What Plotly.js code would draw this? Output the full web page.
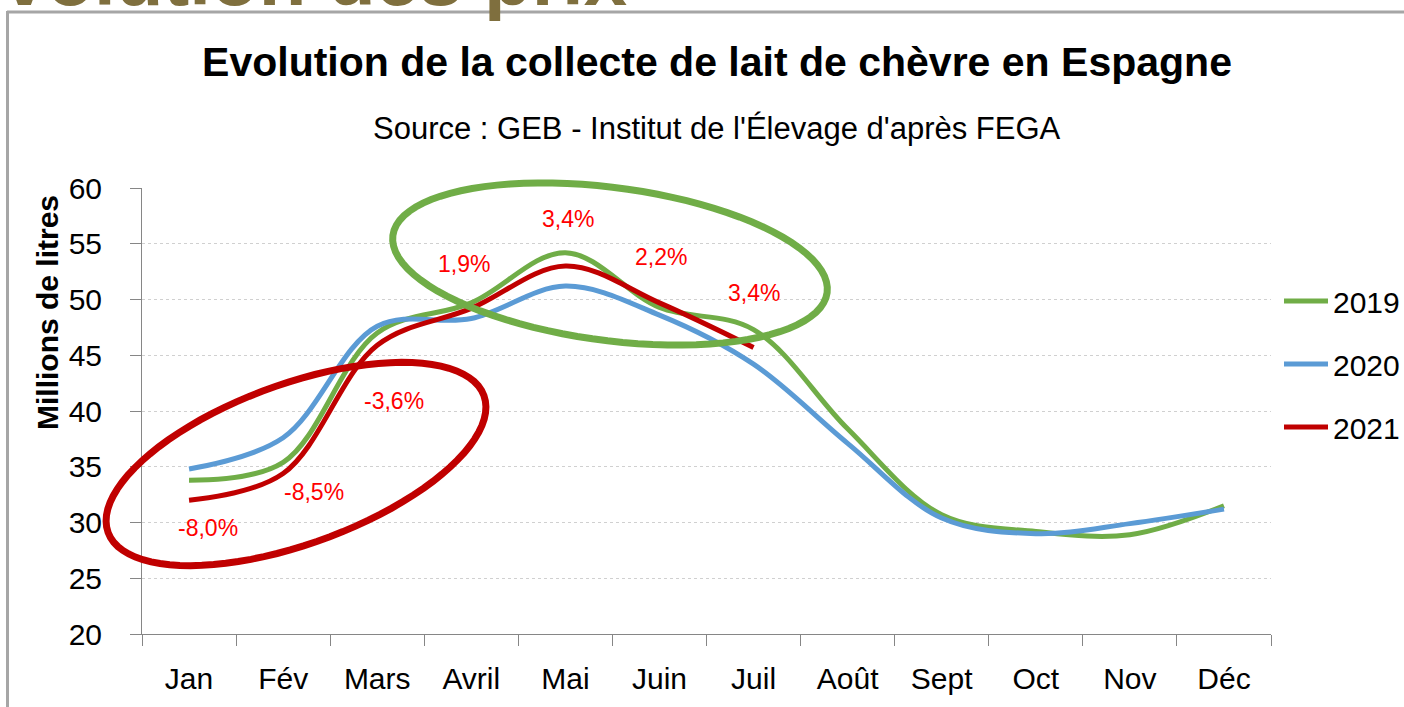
<!DOCTYPE html>
<html>
<head>
<meta charset="utf-8">
<script src="https://cdn.plot.ly/plotly-3.0.1.min.js"></script>
<style>
html,body{margin:0;padding:0;background:#fff;}
#chart{width:1404px;height:707px;}
</style>
</head>
<body>
<div id="chart"></div>
<script>
// ---- data ----
const months = ['Jan','Fév','Mars','Avril','Mai','Juin','Juil','Août','Sept','Oct','Nov','Déc'];
const years = ['2019','2020','2021'];
const y2019 = [33.8, 35.4, 47.0, 49.7, 54.2, 49.3, 47.3, 38.4, 30.7, 29.2, 28.9, 31.5];
const y2020 = [34.8, 37.6, 47.6, 48.3, 51.2, 48.6, 44.2, 37.1, 30.4, 29.0, 29.9, 31.2];
const y2021 = [32.0, 34.4, 45.9, 49.2, 53.0, 49.7, 45.7];
const pctLabels = ['-8,0%', '-8,5%', '-3,6%', '1,9%', '3,4%', '2,2%', '3,4%'];
const yTicks = [20, 25, 30, 35, 40, 45, 50, 55, 60];

// ---- styles / layout ----
const FONT = "'Liberation Sans Narrow', 'Arial Narrow', 'Liberation Sans', Arial, sans-serif";
const colors = ['#70ad47', '#5b9bd5', '#c00000'];
const series = [y2019, y2020, y2021];

const W = 1404, H = 707;
const M = {l: 142, r: 133, t: 188, b: 73, autoexpand: false};
const plotW = W - M.l - M.r, plotH = H - M.t - M.b;
const px2paperX = px => (px - M.l) / plotW;
const px2paperY = py => (H - M.b - py) / plotH;

const traces = series.map((ys, i) => ({
  type: 'scatter',
  mode: 'lines',
  name: years[i],
  legendgroup: years[i],
  x: months.slice(0, ys.length),
  y: ys,
  line: {color: colors[i], width: 5, shape: 'spline', smoothing: 1},
  hoverinfo: 'x+y+name'
}));

// label placement offsets (category index, value units)
const labelPos = [[0.2, 29.5], [1.33, 32.7], [2.18, 40.9], [2.92, 53.2], [4.03, 57.2], [5.02, 53.8], [6.01, 50.6]];
const annotations = pctLabels.map((t, i) => ({
  text: t, x: labelPos[i][0], y: labelPos[i][1], xref: 'x', yref: 'y',
  showarrow: false, font: {family: FONT, size: 23, color: '#ff0000'},
  xanchor: 'center', yanchor: 'middle'
}));

annotations.push({
  text: 'Source : GEB - Institut de l\'Élevage d\'après FEGA',
  xref: 'paper', yref: 'paper', x: px2paperX(717), y: px2paperY(128),
  xanchor: 'center', yanchor: 'middle', showarrow: false,
  font: {family: FONT, size: 31, color: '#000'}
});
annotations.push({
  text: '<b>Millions de litres</b>',
  xref: 'paper', yref: 'paper', x: px2paperX(47), y: px2paperY(313),
  xanchor: 'center', yanchor: 'middle', showarrow: false, textangle: -90,
  font: {family: FONT, size: 30, color: '#000'}
});
annotations.push({
  text: '<b>Evolution des prix</b>',
  xref: 'paper', yref: 'paper', x: px2paperX(-51), y: px2paperY(24),
  xanchor: 'left', yanchor: 'bottom', showarrow: false,
  font: {family: "'Liberation Sans', Arial, sans-serif", size: 78, color: '#7f6f3e'}
});

function ellipsePath(cx, cy, a, b, deg) {
  const th = deg * Math.PI / 180, n = 90;
  let d = '';
  for (let k = 0; k <= n; k++) {
    const t = 2 * Math.PI * k / n;
    const ex = a * Math.cos(t), ey = b * Math.sin(t);
    const x = cx + ex * Math.cos(th) - ey * Math.sin(th);
    const y = cy + ex * Math.sin(th) + ey * Math.cos(th);
    d += (k === 0 ? 'M' : 'L') + px2paperX(x).toFixed(5) + ',' + px2paperY(y).toFixed(5);
  }
  return d + 'Z';
}

const shapes = [
  {type: 'path', xref: 'paper', yref: 'paper', path: ellipsePath(296, 464, 200, 80, -20),
   line: {color: '#c00000', width: 7}},
  {type: 'path', xref: 'paper', yref: 'paper', path: ellipsePath(610, 264, 219, 76.5, 7.5),
   line: {color: '#70ad47', width: 7}},
  // frame lines of the slide
  {type: 'line', xref: 'paper', yref: 'paper', x0: px2paperX(7), x1: px2paperX(1410), y0: px2paperY(12), y1: px2paperY(12),
   line: {color: '#a6a6a6', width: 3}},
  {type: 'line', xref: 'paper', yref: 'paper', x0: px2paperX(7.5), x1: px2paperX(7.5), y0: px2paperY(11), y1: px2paperY(720),
   line: {color: '#a6a6a6', width: 3}}
];

const layout = {
  width: W, height: H,
  margin: M,
  paper_bgcolor: '#fff', plot_bgcolor: '#fff',
  font: {family: FONT, color: '#000'},
  title: {
    text: '<b>Evolution de la collecte de lait de chèvre en Espagne</b>',
    xref: 'container', yref: 'container', x: 717 / W, y: 1 - 62 / H,
    xanchor: 'center', yanchor: 'middle',
    font: {family: FONT, size: 41, color: '#000'}
  },
  xaxis: {
    type: 'category', categoryorder: 'array', categoryarray: months,
    range: [-0.5, 11.5], tickson: 'boundaries',
    ticks: 'outside', ticklen: 11, tickcolor: '#868686', tickwidth: 1,
    showline: true, linecolor: '#868686', linewidth: 1,
    showgrid: false, zeroline: false,
    tickfont: {family: FONT, size: 30, color: '#000'},
    ticklabelstandoff: 18
  },
  yaxis: {
    range: [20, 60], tickvals: yTicks, ticktext: yTicks.map(String),
    ticks: 'outside', ticklen: 11, tickcolor: '#868686', tickwidth: 1,
    showline: true, linecolor: '#868686', linewidth: 1,
    showgrid: true, gridcolor: '#d0d0d0', griddash: 'dot', gridwidth: 1,
    zeroline: false,
    tickfont: {family: FONT, size: 30, color: '#000'},
    ticklabelstandoff: 22
  },
  legend: {
    x: px2paperX(1279), y: px2paperY(275), xanchor: 'left', yanchor: 'top',
    font: {family: FONT, size: 30, color: '#000'},
    tracegroupgap: 21, bgcolor: 'rgba(0,0,0,0)', itemwidth: 44
  },
  showlegend: true,
  annotations: annotations,
  shapes: shapes
};

Plotly.newPlot('chart', traces, layout, {displayModeBar: false, staticPlot: true});
</script>
</body>
</html>
